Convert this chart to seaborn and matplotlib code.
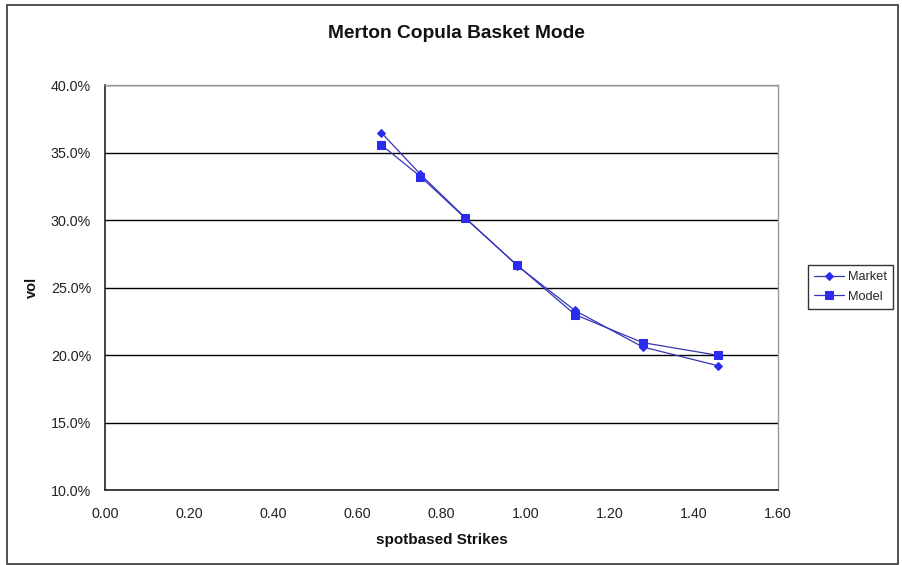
import matplotlib
matplotlib.use("Agg")
import matplotlib.pyplot as plt
import matplotlib.patches as mpatches
from matplotlib.ticker import PercentFormatter, MultipleLocator
import seaborn as sns
import pandas as pd

strikes = [0.657, 0.750, 0.857, 0.980, 1.117, 1.278, 1.458]
market = [0.3647, 0.3338, 0.3015, 0.2662, 0.2330, 0.2060, 0.1920]
model = [0.3556, 0.3322, 0.3012, 0.2665, 0.2300, 0.2092, 0.1997]
series_names = ["Market", "Model"]

sns.set_style("white")
plt.rcParams['font.family'] = ['Liberation Sans', 'DejaVu Sans']

fig = plt.figure(figsize=(9.02, 5.65), dpi=100)
ax = fig.add_axes([105/902, 1-490/565, (778-105)/902, (490-85)/565])

line_c = "#3535B5"
mark_c = "#2B2BF0"
sns.lineplot(x=strikes, y=market, ax=ax, color=line_c, lw=0.9, marker="D",
             markersize=4.5, markerfacecolor=mark_c, markeredgecolor=mark_c,
             label=series_names[0])
sns.lineplot(x=strikes, y=model, ax=ax, color=line_c, lw=0.9, marker="s",
             markersize=6, markerfacecolor=mark_c, markeredgecolor=mark_c,
             label=series_names[1])

ax.set_xlim(0, 1.6)
ax.set_ylim(0.10, 0.40)
ax.xaxis.set_major_locator(MultipleLocator(0.2))
ax.yaxis.set_major_locator(MultipleLocator(0.05))
ax.yaxis.set_major_formatter(PercentFormatter(1.0, decimals=1))
ax.xaxis.set_major_formatter(matplotlib.ticker.FormatStrFormatter('%.2f'))
ax.grid(axis='y', color='black', lw=1.0)
ax.set_axisbelow(True)
for s in ['top', 'right']:
    ax.spines[s].set_color('#999999')
    ax.spines[s].set_linewidth(1.0)
for s in ['left', 'bottom']:
    ax.spines[s].set_color('#222222')
    ax.spines[s].set_linewidth(1.2)
ax.tick_params(axis='both', direction='out', length=5, width=1, color='#222222',
               labelsize=10.3, pad=5, labelcolor='#222222')
ax.tick_params(axis='x', pad=7)
ax.set_xlabel("spotbased Strikes", fontsize=11, fontweight='bold', va='center',
              color='#111111')
ax.xaxis.set_label_coords(0.5, (490-540)/405)
ax.set_ylabel("vol", fontsize=10.5, fontweight='bold', va='center', color='#111111')
ax.yaxis.set_label_coords((32-105)/673, (490-287)/405)
fig.text(456/902, 1-33/565, "Merton Copula Basket Mode", ha='center', va='center',
         fontsize=13.8, fontweight='bold', color='#111111')

leg = ax.legend(loc='center left', bbox_to_anchor=(808/902, 1-287/565),
                bbox_transform=fig.transFigure, fontsize=9.2, frameon=True,
                fancybox=False, edgecolor='black', handlelength=2.3,
                borderpad=0.5, labelspacing=0.6, handletextpad=0.3,
                borderaxespad=0)
leg.get_frame().set_linewidth(1.0)

fig.patches.append(mpatches.Rectangle((7/902, 1/565), 891/902, 559/565,
                   transform=fig.transFigure, fill=False, edgecolor='#333333', lw=1.2))

fig.savefig("out.png", dpi=100)
